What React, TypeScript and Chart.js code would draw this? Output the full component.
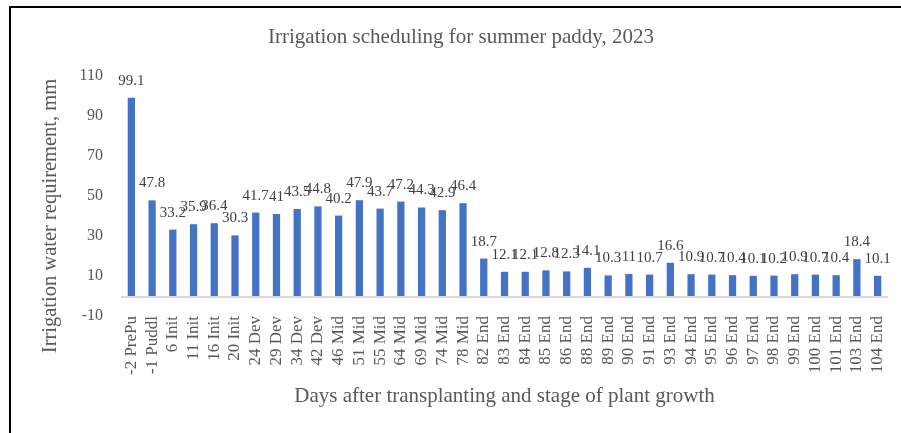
import React, { useEffect, useRef } from "react";
import { Chart, registerables } from "chart.js";

Chart.register(...registerables);

const categories = [
  "-2 PrePu", "-1 Puddl", "6 Init", "11 Init", "16 Init", "20 Init",
  "24 Dev", "29 Dev", "34 Dev", "42 Dev",
  "46 Mid", "51 Mid", "55 Mid", "64 Mid", "69 Mid", "74 Mid", "78 Mid",
  "82 End", "83 End", "84 End", "85 End", "86 End", "88 End", "89 End", "90 End",
  "91 End", "93 End", "94 End", "95 End", "96 End", "97 End", "98 End", "99 End",
  "100 End", "101 End", "103 End", "104 End",
];

const values = [
  99.1, 47.8, 33.2, 35.9, 36.4, 30.3,
  41.7, 41, 43.5, 44.8,
  40.2, 47.9, 43.7, 47.2, 44.3, 42.9, 46.4,
  18.7, 12.1, 12.1, 12.8, 12.3, 14.1, 10.3, 11,
  10.7, 16.6, 10.9, 10.7, 10.4, 10.1, 10.2, 10.9,
  10.7, 10.4, 18.4, 10.1,
];

const yTicks = [-10, 10, 30, 50, 70, 90, 110];

const chartTitle = "Irrigation scheduling for summer paddy, 2023";
const xTitle = "Days after transplanting and stage of plant growth";
const yTitle = "Irrigation water requirement, mm";

const FONT = "'Liberation Serif', 'Times New Roman', serif";
const TEXT = "#595959";
const LABEL = "#404040";
const BAR = "#4472C4";

export default function App() {
  const ref = useRef<HTMLCanvasElement | null>(null);

  useEffect(() => {
    if (!ref.current) return;

    const zeroLine = {
      id: "zeroLine",
      beforeDatasetsDraw(chart: any) {
        const { ctx, chartArea, scales } = chart;
        const y = scales.y.getPixelForValue(0);
        ctx.save();
        ctx.strokeStyle = "#D9D9D9";
        ctx.lineWidth = 2;
        ctx.beginPath();
        ctx.moveTo(chartArea.left, y + 1);
        ctx.lineTo(chartArea.right, y + 1);
        ctx.stroke();
        ctx.restore();
      },
    };

    const valueLabels = {
      id: "valueLabels",
      afterDatasetsDraw(chart: any) {
        const { ctx } = chart;
        const meta = chart.getDatasetMeta(0);
        ctx.save();
        ctx.font = `15px ${FONT}`;
        ctx.fillStyle = LABEL;
        ctx.textAlign = "center";
        ctx.textBaseline = "middle";
        meta.data.forEach((bar: any, i: number) => {
          ctx.fillText(String(values[i]), bar.x, bar.y - 17);
        });
        ctx.restore();
      },
    };

    const yTitlePlugin = {
      id: "yTitle",
      afterDraw(chart: any) {
        const { ctx } = chart;
        ctx.save();
        ctx.font = `20.5px ${FONT}`;
        ctx.fillStyle = TEXT;
        ctx.textAlign = "center";
        ctx.textBaseline = "middle";
        ctx.translate(51, 216);
        ctx.rotate(-Math.PI / 2);
        ctx.fillText(yTitle, 0, 0);
        ctx.restore();
      },
    };

    const chart = new Chart(ref.current, {
      type: "bar",
      data: {
        labels: categories,
        datasets: [
          {
            data: values,
            backgroundColor: BAR,
            borderWidth: 0,
            categoryPercentage: 1,
            barPercentage: 0.35,
          },
        ],
      },
      options: {
        responsive: false,
        animation: false,
        layout: { padding: { left: 34, right: 13, top: 0, bottom: 0 } },
        plugins: {
          legend: { display: false },
          tooltip: { enabled: false },
          title: {
            display: true,
            text: chartTitle,
            color: TEXT,
            font: { family: FONT, size: 21, weight: "normal" },
            padding: { top: 24.4, bottom: 26.4 },
          },
        },
        scales: {
          x: {
            grid: { display: false, drawTicks: false },
            border: { display: false },
            ticks: {
              color: TEXT,
              font: { family: FONT, size: 17 },
              maxRotation: 90,
              minRotation: 90,
              autoSkip: false,
              padding: 0,
            },
            title: {
              display: true,
              text: xTitle,
              color: TEXT,
              font: { family: FONT, size: 21 },
              padding: { top: 0, bottom: 24.4 },
            },
            afterFit(scale: any) {
              scale.height = 117;
            },
          },
          y: {
            min: -10,
            max: 110,
            grid: { display: false, drawTicks: false },
            border: { display: false },
            ticks: {
              color: TEXT,
              font: { family: FONT, size: 16 },
              padding: 18,
            },
            afterBuildTicks(scale: any) {
              scale.ticks = yTicks.map((v) => ({ value: v }));
            },
            afterFit(scale: any) {
              scale.width = 87;
            },
          },
        },
      },
      plugins: [zeroLine, valueLabels, yTitlePlugin],
    });

    return () => chart.destroy();
  }, []);

  return (
    <div style={{ position: "fixed", left: 0, top: 0, width: 901, height: 433, background: "#fff" }}>
      <div
        style={{
          position: "absolute",
          left: 9,
          top: 6,
          right: 0,
          bottom: 0,
          borderTop: "2px solid #000",
          borderLeft: "2px solid #000",
        }}
      />
      <canvas ref={ref} width={901} height={433} style={{ position: "absolute", left: 0, top: 0 }} />
    </div>
  );
}
